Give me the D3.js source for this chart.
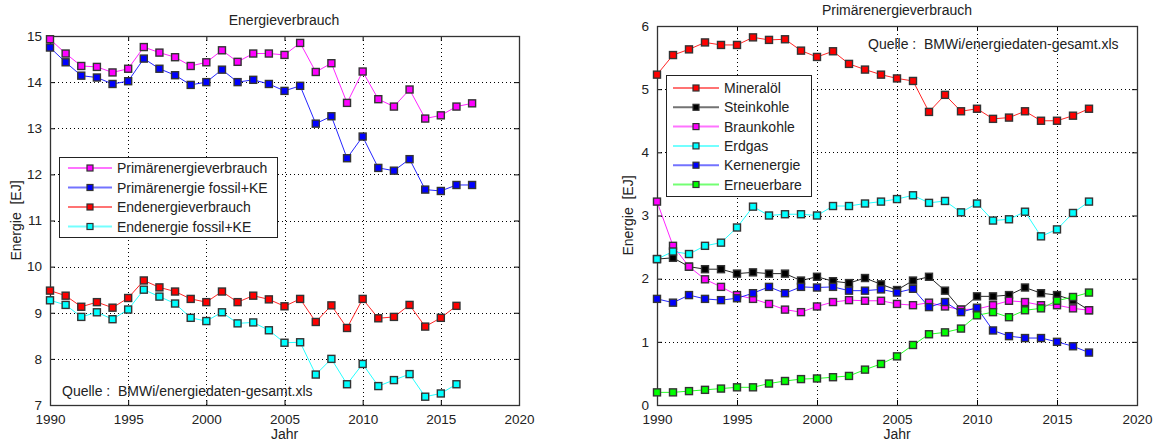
<!DOCTYPE html>
<html><head><meta charset="utf-8">
<script src="https://cdn.jsdelivr.net/npm/d3@7"></script>
<style>
body{margin:0;background:#fff;}
svg{font-family:"Liberation Sans",Arial,sans-serif;}
</style></head>
<body><svg id="c" width="1154" height="442"></svg>
<script>
const years = d3.range(1990, 2018);
// Left chart series (EJ)
const primaer = [14.93,14.62,14.35,14.33,14.21,14.29,14.76,14.64,14.54,14.35,14.43,14.69,14.44,14.62,14.62,14.59,14.85,14.22,14.41,13.55,14.23,13.63,13.47,13.84,13.21,13.28,13.47,13.54];
const primaerFossil = [14.75,14.43,14.14,14.10,13.96,14.02,14.51,14.29,14.15,13.94,14.00,14.27,14.00,14.05,13.96,13.81,13.92,13.10,13.26,12.35,12.82,12.14,12.08,12.33,11.67,11.64,11.77,11.77];
const endenergie = [9.48,9.37,9.13,9.23,9.11,9.32,9.70,9.55,9.46,9.30,9.23,9.46,9.23,9.37,9.29,9.14,9.30,8.80,9.16,8.67,9.30,8.88,8.91,9.17,8.70,8.89,9.15];
const endenergieFossil = [9.27,9.17,8.91,9.01,8.86,9.07,9.50,9.35,9.20,8.89,8.82,9.01,8.77,8.79,8.62,8.35,8.36,7.66,8.00,7.45,7.89,7.41,7.54,7.67,7.18,7.25,7.45];
// Right chart series (EJ)
const mineraloel = [5.23,5.54,5.63,5.74,5.70,5.70,5.82,5.78,5.79,5.61,5.51,5.60,5.40,5.31,5.23,5.17,5.13,4.64,4.91,4.65,4.69,4.53,4.55,4.65,4.50,4.50,4.58,4.69];
const steinkohle = [2.31,2.33,2.19,2.15,2.15,2.08,2.10,2.08,2.08,1.97,2.03,1.96,1.93,2.01,1.91,1.82,1.97,2.03,1.81,1.51,1.72,1.72,1.74,1.86,1.77,1.74,1.66,1.50];
const braunkohle = [3.22,2.52,2.19,1.99,1.87,1.74,1.68,1.60,1.51,1.47,1.56,1.63,1.66,1.65,1.65,1.60,1.58,1.62,1.56,1.51,1.52,1.58,1.65,1.63,1.58,1.58,1.53,1.50];
const erdgas = [2.31,2.43,2.39,2.52,2.57,2.81,3.14,3.00,3.02,3.02,3.00,3.15,3.15,3.19,3.22,3.26,3.32,3.20,3.23,3.05,3.19,2.92,2.94,3.06,2.67,2.78,3.04,3.22];
const kernenergie = [1.68,1.62,1.74,1.68,1.66,1.69,1.77,1.87,1.77,1.87,1.86,1.87,1.81,1.81,1.83,1.78,1.84,1.55,1.63,1.47,1.54,1.18,1.09,1.06,1.06,1.00,0.93,0.83];
const erneuerbare = [0.20,0.20,0.22,0.24,0.26,0.28,0.28,0.34,0.38,0.41,0.42,0.44,0.46,0.56,0.65,0.77,0.95,1.12,1.15,1.21,1.42,1.47,1.39,1.50,1.53,1.65,1.71,1.78];

const xTicks = [1990,1995,2000,2005,2010,2015,2020];
const leftYTicks = [7,8,9,10,11,12,13,14,15];
const rightYTicks = [0,1,2,3,4,5,6];

const leftSeries = [
  {name:"Primärenergieverbrauch", values:primaer, color:"#ff00ff"},
  {name:"Primärenergie fossil+KE", values:primaerFossil, color:"#0000ff"},
  {name:"Endenergieverbrauch", values:endenergie, color:"#ff0000"},
  {name:"Endenergie fossil+KE", values:endenergieFossil, color:"#00ffff"}
];
const rightSeries = [
  {name:"Mineralöl", values:mineraloel, color:"#ff0000"},
  {name:"Steinkohle", values:steinkohle, color:"#000000"},
  {name:"Braunkohle", values:braunkohle, color:"#ff00ff"},
  {name:"Erdgas", values:erdgas, color:"#00ffff"},
  {name:"Kernenergie", values:kernenergie, color:"#0000ff"},
  {name:"Erneuerbare", values:erneuerbare, color:"#00ff00"}
];

const svg = d3.select("#c");

function panel(cfg){
  const g = svg.append("g");
  const x = d3.scaleLinear().domain([1990,2020]).range([cfg.x0,cfg.x1]);
  const y = d3.scaleLinear().domain(cfg.ydom).range([cfg.y1,cfg.y0]);
  // grid
  g.append("g").selectAll("line").data(xTicks.slice(1,-1)).join("line")
    .attr("x1",d=>Math.round(x(d))+0.5).attr("x2",d=>Math.round(x(d))+0.5).attr("y1",cfg.y0).attr("y2",cfg.y1)
    .attr("stroke","#000").attr("stroke-width",1).attr("stroke-dasharray","1,3");
  g.append("g").selectAll("line").data(cfg.yticks.slice(1,-1)).join("line")
    .attr("y1",d=>Math.round(y(d))+0.5).attr("y2",d=>Math.round(y(d))+0.5).attr("x1",cfg.x0).attr("x2",cfg.x1)
    .attr("stroke","#000").attr("stroke-width",1).attr("stroke-dasharray","1,3");
  // axes
  const ax = d3.axisBottom(x).tickValues(xTicks).tickFormat(d3.format("d")).tickSizeInner(-5).tickSizeOuter(0).tickPadding(9);
  const axT = d3.axisTop(x).tickValues(xTicks).tickFormat("").tickSizeInner(-5).tickSizeOuter(0);
  const ay = d3.axisLeft(y).tickValues(cfg.yticks).tickFormat(d3.format("d")).tickSizeInner(-5).tickSizeOuter(0).tickPadding(8);
  const ayR = d3.axisRight(y).tickValues(cfg.yticks).tickFormat("").tickSizeInner(-5).tickSizeOuter(0);
  const style = s => { s.select(".domain").remove(); s.selectAll("text").attr("font-size",13.5).attr("fill","#222").attr("font-family","Liberation Sans, Arial, sans-serif"); s.selectAll("line").attr("stroke","#000"); };
  g.append("g").attr("transform",`translate(0,${cfg.y1})`).call(ax).call(style);
  g.append("g").attr("transform",`translate(0,${cfg.y0})`).call(axT).call(style);
  g.append("g").attr("transform",`translate(${cfg.x0},0)`).call(ay).call(style);
  g.append("g").attr("transform",`translate(${cfg.x1},0)`).call(ayR).call(style);
  g.append("rect").attr("x",cfg.x0+0.5).attr("y",cfg.y0+0.5).attr("width",cfg.x1-cfg.x0).attr("height",cfg.y1-cfg.y0)
    .attr("fill","none").attr("stroke","#333").attr("stroke-width",1.3);
  // series
  const line = d3.line().x((d,i)=>x(years[i])).y(d=>y(d));
  cfg.series.forEach(s=>{
    g.append("path").datum(s.values).attr("d",line).attr("fill","none").attr("stroke",s.color).attr("stroke-width",1).attr("stroke-opacity",0.85);
  });
  cfg.series.forEach(s=>{
    g.append("g").selectAll("rect").data(s.values).join("rect")
      .attr("x",(d,i)=>x(years[i])-3.5).attr("y",d=>y(d)-3.5).attr("width",7).attr("height",7)
      .attr("fill",s.color).attr("stroke","#333").attr("stroke-width",1.4);
  });
  // title & labels
  g.append("text").attr("x",cfg.titleX).attr("y",cfg.titleY).attr("text-anchor","middle").attr("font-size",14).attr("fill","#222").text(cfg.title);
  g.append("text").attr("x",(cfg.x0+cfg.x1)/2).attr("y",439).attr("text-anchor","middle").attr("font-size",14).attr("fill","#222").text("Jahr");
  g.append("text").attr("transform",`translate(${cfg.ylabX},${(cfg.y0+cfg.y1)/2}) rotate(-90)`).attr("text-anchor","middle").attr("font-size",14).attr("fill","#222").attr("xml:space","preserve").text("Energie  [EJ]");
  g.append("text").attr("x",cfg.qX).attr("y",cfg.qY).attr("font-size",14).attr("fill","#222").attr("xml:space","preserve").text("Quelle :  BMWi/energiedaten-gesamt.xls");
  // legend
  const L = cfg.legend;
  g.append("rect").attr("x",L.x+0.5).attr("y",L.y+0.5).attr("width",L.w).attr("height",L.h).attr("fill","#fff").attr("stroke","#222").attr("stroke-width",1);
  cfg.series.forEach((s,i)=>{
    const yy = L.y + L.first + i*L.step;
    g.append("line").attr("x1",L.lx0).attr("x2",L.lx1).attr("y1",yy).attr("y2",yy).attr("stroke",s.color).attr("stroke-width",2).attr("stroke-opacity",0.55);
    g.append("rect").attr("x",(L.lx0+L.lx1)/2-3).attr("y",yy-3).attr("width",6).attr("height",6).attr("fill",s.color).attr("stroke","#333").attr("stroke-width",1.2);
    g.append("text").attr("x",L.tx).attr("y",yy+5).attr("font-size",14).attr("fill","#222").text(s.name);
  });
}

panel({x0:50,x1:519,y0:36,y1:405,ydom:[7,15],yticks:leftYTicks,series:leftSeries,
  title:"Energieverbrauch",titleX:284,titleY:25,ylabX:21,qX:62,qY:396,
  legend:{x:59,y:157,w:218,h:80,first:11,step:19.5,lx0:68,lx1:112,tx:117}});
panel({x0:657,x1:1137,y0:26,y1:405,ydom:[0,6],yticks:rightYTicks,series:rightSeries,
  title:"Primärenergieverbrauch",titleX:897,titleY:15,ylabX:633,qX:868,qY:49,
  legend:{x:666,y:75,w:145,h:121,first:13,step:19.3,lx0:673,lx1:719,tx:724}});
</script></body></html>
